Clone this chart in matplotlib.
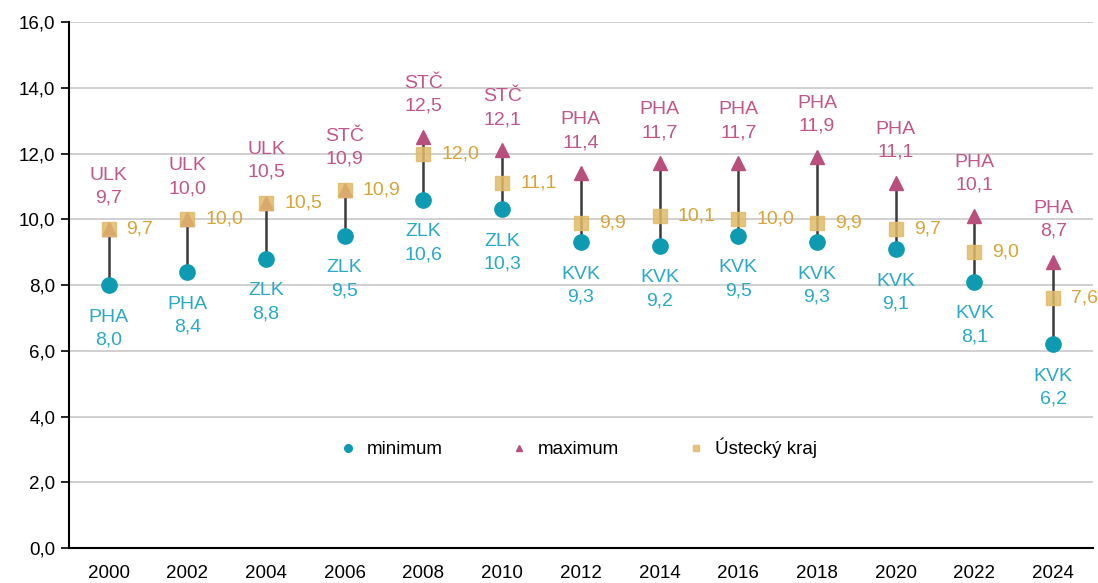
import matplotlib.pyplot as plt

plt.rcParams['font.family'] = ['Liberation Sans', 'DejaVu Sans']

years = ['2000', '2002', '2004', '2006', '2008', '2010', '2012', '2014', '2016', '2018', '2020', '2022', '2024']
min_vals = [8.0, 8.4, 8.8, 9.5, 10.6, 10.3, 9.3, 9.2, 9.5, 9.3, 9.1, 8.1, 6.2]
min_regions = ['PHA', 'PHA', 'ZLK', 'ZLK', 'ZLK', 'ZLK', 'KVK', 'KVK', 'KVK', 'KVK', 'KVK', 'KVK', 'KVK']
max_vals = [9.7, 10.0, 10.5, 10.9, 12.5, 12.1, 11.4, 11.7, 11.7, 11.9, 11.1, 10.1, 8.7]
max_regions = ['ULK', 'ULK', 'ULK', 'STČ', 'STČ', 'STČ', 'PHA', 'PHA', 'PHA', 'PHA', 'PHA', 'PHA', 'PHA']
ustecky = [9.7, 10.0, 10.5, 10.9, 12.0, 11.1, 9.9, 10.1, 10.0, 9.9, 9.7, 9.0, 7.6]

c_min = '#0e9bb2'
c_min_txt = '#2aa9c6'
c_max = '#b94f7d'
c_max_txt = '#c0568a'
c_ust = '#e0bb6a'
c_ust_txt = '#d9a437'

def fmt(v):
    return f'{v:.1f}'.replace('.', ',')

fig, ax = plt.subplots(figsize=(10.98, 5.83), dpi=100)
fig.subplots_adjust(left=0.063, right=0.995, top=0.962, bottom=0.06)

x = list(range(len(years)))

# vertical range lines
ax.vlines(x, min_vals, max_vals, color='#3a3a3a', linewidth=1.8, zorder=2)

ax.plot(x, max_vals, linestyle='none', marker='^', markersize=10, color=c_max, label='maximum', zorder=3)
ax.plot(x, ustecky, linestyle='none', marker='s', markersize=10, color=c_ust, alpha=0.85, label='Ústecký kraj', zorder=4)
ax.plot(x, min_vals, linestyle='none', marker='o', markersize=11, color=c_min, label='minimum', zorder=5)

for i in x:
    ax.annotate(min_regions[i] + '\n' + fmt(min_vals[i]), (i, min_vals[i]), xytext=(0, -17),
                textcoords='offset points', ha='center', va='top', color=c_min_txt,
                fontsize=14, linespacing=1.45)
    ax.annotate(max_regions[i] + '\n' + fmt(max_vals[i]), (i, max_vals[i]), xytext=(0, 16),
                textcoords='offset points', ha='center', va='bottom', color=c_max_txt,
                fontsize=14, linespacing=1.45)
    ax.annotate(fmt(ustecky[i]), (i, ustecky[i]), xytext=(13, 0),
                textcoords='offset points', ha='left', va='center', color=c_ust_txt,
                fontsize=14)

ax.set_xlim(-0.5, len(years) - 0.5)
ax.set_ylim(0, 16)
ax.set_yticks(range(0, 17, 2))
ax.set_yticklabels([fmt(v) for v in range(0, 17, 2)], fontsize=13.5)
ax.set_xticks(x)
ax.set_xticklabels(years, fontsize=13.5)
ax.tick_params(axis='x', length=0, pad=12)
ax.tick_params(axis='y', direction='out', length=6, width=1.2, pad=4)
ax.yaxis.grid(True, color='#c8c8c8', linewidth=1.2)
ax.set_axisbelow(True)
for s in ['top', 'right']:
    ax.spines[s].set_visible(False)
ax.spines['left'].set_linewidth(1.5)
ax.spines['bottom'].set_linewidth(1.5)

handles, labels = ax.get_legend_handles_labels()
order = [2, 0, 1]
leg = ax.legend([handles[k] for k in order], [labels[k] for k in order], ncol=3, frameon=False,
                loc='center', bbox_to_anchor=(0.497, 0.19), fontsize=13.5, markerscale=0.5,
                handlelength=1.0, handletextpad=0.5, columnspacing=3.6)

plt.savefig('out.png')
